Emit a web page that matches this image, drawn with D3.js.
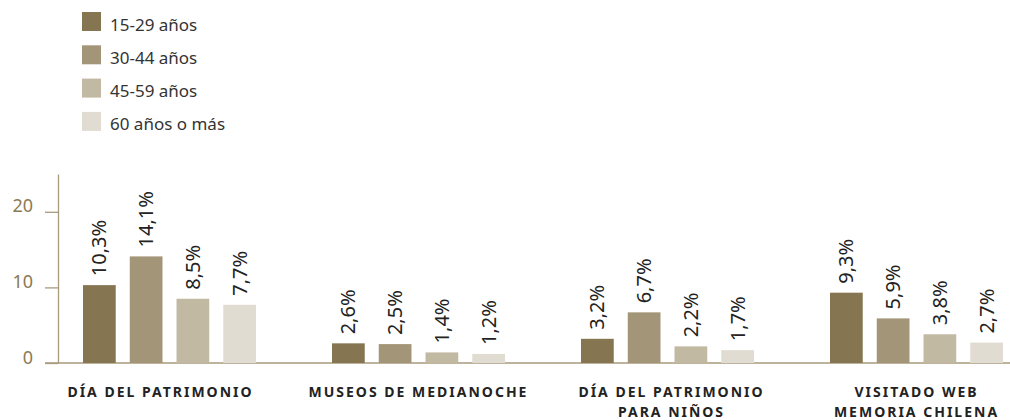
<!DOCTYPE html>
<html>
<head>
<meta charset="utf-8">
<script src="https://cdn.jsdelivr.net/npm/d3@7"></script>
<style>
  body { margin: 0; background: #fff; }
  svg { font-family: "Noto Sans", "Open Sans", sans-serif; }
</style>
</head>
<body>
<div id="chart"></div>
<script>
// data
const categories = ['DÍA DEL PATRIMONIO', 'MUSEOS DE MEDIANOCHE', 'DÍA DEL PATRIMONIO|PARA NIÑOS', 'VISITADO WEB|MEMORIA CHILENA']
const ageGroups = ['15-29 años', '30-44 años', '45-59 años', '60 años o más']
const values15 = [10.3, 2.6, 3.2, 9.3]
const values30 = [14.1, 2.5, 6.7, 5.9]
const values45 = [8.5, 1.4, 2.2, 3.8]
const values60 = [7.7, 1.2, 1.7, 2.7]
const yTicks = [0, 10, 20]

const series = [values15, values30, values45, values60]
const colors = ['#857550', '#a39578', '#c2b9a3', '#e0dcd1']

// small nudges so the category captions sit like in the original layout
const labelShift = [-9, 0, 4, 0]

const width = 1010,
  height = 420,
  baseY = 363,
  axisX = 58

const svg = d3.select('#chart')
  .append('svg')
  .attr('width', width)
  .attr('height', height)

const x0 = d3.scaleBand()
  .domain(categories)
  .range([45, 1041])

const x1 = d3.scaleBand()
  .domain(ageGroups)
  .range([38, 211])
  .paddingInner(0.3)

const y = d3.scaleLinear()
  .domain([0, 25])
  .range([baseY, 174])

const color = d3.scaleOrdinal().domain(ageGroups).range(colors)

// legend
const legend = svg.append('g')
  .selectAll('g')
  .data(ageGroups)
  .join('g')
  .attr('transform', (d, i) => `translate(82, ${12 + i * 33.3})`)

legend.append('rect')
  .attr('width', 19)
  .attr('height', 19)
  .attr('fill', d => color(d))

legend.append('text')
  .attr('x', 28)
  .attr('y', 18.5)
  .attr('font-size', 17)
  .attr('fill', '#333')
  .text(d => d)

// y axis
const yAxis = svg.append('g')
  .attr('transform', `translate(${axisX},0)`)
  .call(d3.axisLeft(y).tickValues(yTicks).tickSize(13).tickSizeOuter(0).tickPadding(12))

yAxis.select('.domain').attr('stroke', '#a89a7c').attr('stroke-width', 1.3)
yAxis.selectAll('.tick line').attr('stroke', '#a89a7c').attr('stroke-width', 1.3)
yAxis.selectAll('.tick text')
  .attr('dy', 0)
  .attr('font-size', 18)
  .attr('font-family', '"Noto Sans", sans-serif')
  .attr('fill', '#8b7a55')

// baseline
svg.append('line')
  .attr('x1', 45)
  .attr('x2', width)
  .attr('y1', y(0))
  .attr('y2', y(0))
  .attr('stroke', '#a89a7c')
  .attr('stroke-width', 1.3)

// bars
const rows = categories.map((c, i) => ({
  cat: c,
  vals: ageGroups.map((a, j) => ({ age: a, v: series[j][i] }))
}))

const groups = svg.append('g')
  .selectAll('g')
  .data(rows)
  .join('g')
  .attr('transform', d => `translate(${x0(d.cat)},0)`)

groups.selectAll('rect')
  .data(d => d.vals)
  .join('rect')
  .attr('x', d => x1(d.age))
  .attr('y', d => y(d.v))
  .attr('width', x1.bandwidth())
  .attr('height', d => y(0) - y(d.v))
  .attr('fill', d => color(d.age))

groups.selectAll('text.val')
  .data(d => d.vals)
  .join('text')
  .attr('class', 'val')
  .attr('transform', d => `translate(${x1(d.age) + x1.bandwidth() / 2 + 7},${y(d.v) - 9}) rotate(-90)`)
  .attr('font-size', 20)
  .attr('fill', '#222')
  .text(d => d.v.toFixed(1).replace('.', ',') + '%')

// category labels
const labels = svg.append('g')
  .selectAll('text')
  .data(categories)
  .join('text')
  .attr('x', (d, i) => x0(d) + x0.bandwidth() / 2 + labelShift[i])
  .attr('y', 397)
  .attr('text-anchor', 'middle')
  .attr('font-size', 14)
  .attr('font-weight', 'bold')
  .attr('letter-spacing', 2)
  .attr('fill', '#222')

labels.selectAll('tspan')
  .data(d => d.split('|'))
  .join('tspan')
  .attr('x', function () { return d3.select(this.parentNode).attr('x') })
  .attr('dy', (d, i) => i === 0 ? 0 : 20)
  .text(d => d)
</script>
</body>
</html>
